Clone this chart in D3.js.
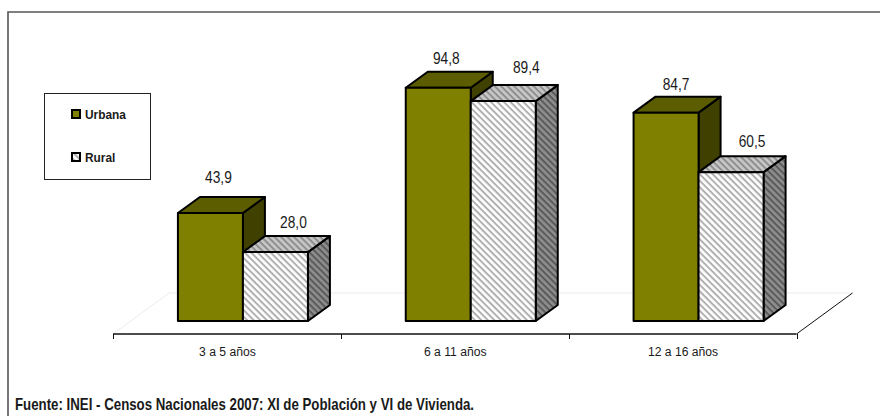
<!DOCTYPE html>
<html><head><meta charset="utf-8">
<script src="https://cdnjs.cloudflare.com/ajax/libs/d3/7.8.5/d3.min.js"></script>
<style>html,body{margin:0;padding:0;background:#fff}svg{display:block}
text{font-family:"Liberation Sans",Arial,sans-serif;fill:#1a1a1a}</style>
</head><body><svg id="c" width="880" height="416"></svg>
<script>
const categories=["3 a 5 años","6 a 11 años","12 a 16 años"];
const seriesNames=["Urbana","Rural"];
const urbana=[43.9,94.8,84.7];
const rural=[28.0,89.4,60.5];
const urbanaLabels=["43,9","94,8","84,7"];
const ruralLabels=["28,0","89,4","60,5"];
const source="Fuente: INEI - Censos Nacionales 2007: XI de Población y VI de Vivienda.";

const svg=d3.select("#c");
const defs=svg.append("defs");
function hatch(id,bg,fg){
  const p=defs.append("pattern").attr("id",id).attr("patternUnits","userSpaceOnUse")
    .attr("width",4.6).attr("height",4.6).attr("patternTransform","rotate(45)");
  p.append("rect").attr("width",4.6).attr("height",4.6).attr("fill",bg);
  p.append("rect").attr("width",4.6).attr("height",2).attr("fill",fg);
}
hatch("hF","#ffffff","#b0b0b0");
hatch("hT","#c8c8c8","#8e8e8e");
hatch("hS","#8e8e8e","#5a5a5a");

function narrow(parent,tx,ty,str,size,sx,anchor,bold){
  return parent.append("text")
    .attr("transform",`translate(${tx},${ty}) scale(${sx},1)`)
    .attr("text-anchor",anchor||"start")
    .attr("font-size",size)
    .attr("font-weight",bold?"bold":"normal")
    .text(str);
}

// frame
svg.append("path").attr("d","M8,416V12H880").attr("fill","none").attr("stroke","#555").attr("stroke-width",1.6);

const x=d3.scaleBand().domain(categories).range([113,796.5]);
const y=d3.scaleLinear().domain([0,100]).range([321,75]);
const dx=22,dy=-16;          // bar depth
const fx=56,fy=-41;          // floor depth
const axisY=334;

// floor
const floor=svg.append("g").attr("fill","none");
floor.append("path").attr("d",`M${x.range()[0]},${axisY}L${x.range()[0]+fx},${axisY+fy}H${x.range()[1]+fx}`)
  .attr("stroke","#ececec").attr("stroke-width",1);
floor.append("path").attr("d",`M${x.range()[1]},${axisY}L${x.range()[1]+fx},${axisY+fy}`)
  .attr("stroke","#111").attr("stroke-width",1);

// axis
const ax=svg.append("g").attr("transform",`translate(0,${axisY})`);
ax.append("line").attr("x1",x.range()[0]).attr("x2",x.range()[1]).attr("stroke","#111").attr("stroke-width",1.3);
const edges=categories.map(c=>x(c)).concat(x.range()[1]);
ax.selectAll(".t").data(edges).join("line").attr("class","t")
  .attr("x1",d=>Math.round(d)+.5).attr("x2",d=>Math.round(d)+.5).attr("y1",0).attr("y2",5)
  .attr("stroke","#111");
categories.forEach(c=>narrow(ax,x(c)+x.bandwidth()/2+.5,22,c,13.5,.9,"middle"));

// bars
const barW=65;
const styles=[{f:"#808000",t:"#5c5c00",d:"#404000"},{f:"url(#hF)",t:"url(#hT)",d:"url(#hS)"}];
// data labels were hand-placed in the original chart, so each has its own nudge
const nudgeX=[[8,8,10],[18,23,21]];
const nudgeY=[[-14,-8,-7],[-8,-12,-9]];
const rows=[];
categories.forEach((c,i)=>{
  const cx=x(c)+x.bandwidth()/2;
  rows.push({s:0,i,v:urbana[i],x0:cx-49,lab:urbanaLabels[i]});
  rows.push({s:1,i,v:rural[i],x0:cx+16,lab:ruralLabels[i]});
});
const base=y(0);
const g=svg.append("g").attr("stroke","#000").attr("stroke-width",2).attr("stroke-linejoin","round");
const labs=svg.append("g");
rows.forEach(r=>{
  const st=styles[r.s],x0=r.x0,x1=x0+barW,t=y(r.v);
  g.append("path").attr("fill",st.d).attr("d",`M${x1},${base}L${x1+dx},${base+dy}V${t+dy}L${x1},${t}Z`);
  g.append("path").attr("fill",st.t).attr("d",`M${x0},${t}L${x0+dx},${t+dy}H${x1+dx}L${x1},${t}Z`);
  g.append("rect").attr("x",x0).attr("y",t).attr("width",barW).attr("height",base-t).attr("fill",st.f);
  narrow(labs,x0+barW/2+nudgeX[r.s][r.i],t+dy+nudgeY[r.s][r.i],r.lab,16,.86,"middle");
});

// legend
const lg=svg.append("g");
lg.append("rect").attr("x",44.5).attr("y",93.5).attr("width",106).attr("height",86)
  .attr("fill","#fff").attr("stroke","#222").attr("stroke-width",1);
seriesNames.forEach((n,i)=>{
  const yy=114+i*43;
  lg.append("rect").attr("x",72).attr("y",yy-4).attr("width",8).attr("height",8)
    .attr("fill",styles[i].f).attr("stroke","#000").attr("stroke-width",2);
  narrow(lg,85,yy+5,n,13.5,.88,"start",true);
});

narrow(svg,15,410,source,16,.83,"start",true);
</script></body></html>
